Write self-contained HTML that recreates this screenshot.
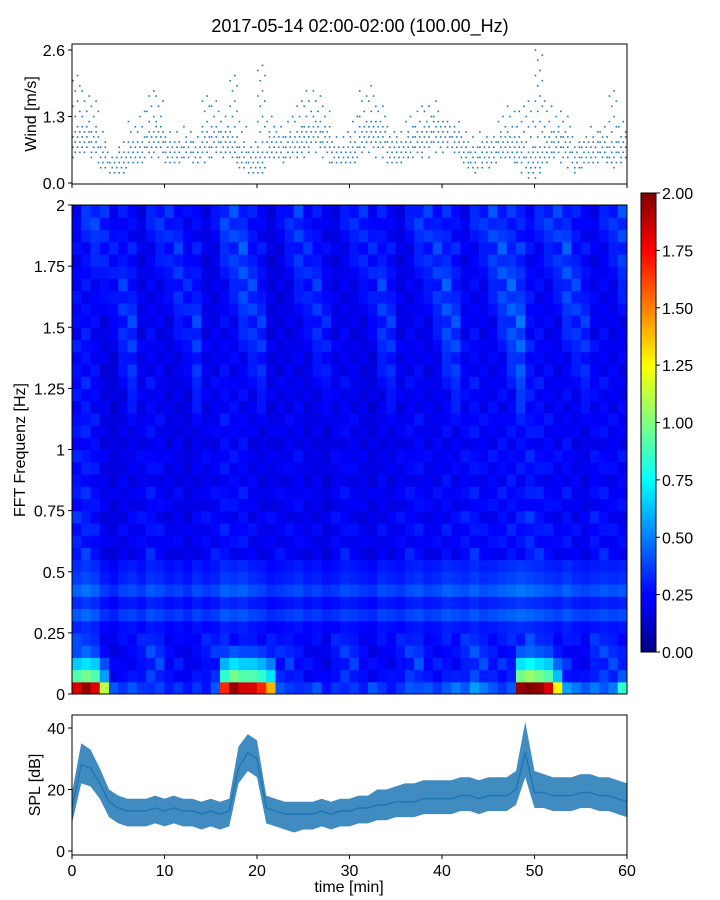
<!DOCTYPE html>
<html><head><meta charset="utf-8">
<style>
body{margin:0;background:#fff;}
svg{display:block;font-family:"Liberation Sans","DejaVu Sans",sans-serif;}
</style></head>
<body>
<svg id="chart" width="720" height="900" viewBox="0 0 720 900">
<defs>
<linearGradient id="jet" x1="0" y1="1" x2="0" y2="0">
<stop offset="0" stop-color="#00007f"/><stop offset="0.11" stop-color="#0000ff"/>
<stop offset="0.125" stop-color="#0000ff"/><stop offset="0.375" stop-color="#00ffff"/>
<stop offset="0.625" stop-color="#ffff00"/><stop offset="0.875" stop-color="#ff0000"/>
<stop offset="1" stop-color="#7f0000"/></linearGradient>
<clipPath id="specClip"><rect x="72" y="205" width="555" height="489"/></clipPath>
<clipPath id="splClip"><rect x="72" y="715" width="555" height="140"/></clipPath>
</defs>
<text x="360" y="32" text-anchor="middle" font-size="18">2017-05-14 02:00-02:00 (100.00_Hz)</text>
<g id="wind"></g>
<g id="spec"></g>
<g id="cbar"></g>
<g id="spl"></g>
</svg>
<script>
// ---- data ----
const xTicks=[0,10,20,30,40,50,60];
const windTicks=[0.0,1.3,2.6];
const windLo=[0.5,0.5,0.4,0.3,0.2,0.2,0.4,0.4,0.5,0.5,0.4,0.4,0.5,0.4,0.4,0.5,0.4,0.4,0.3,0.2,0.2,0.4,0.4,0.5,0.5,0.5,0.5,0.4,0.4,0.4,0.4,0.5,0.5,0.5,0.4,0.4,0.4,0.5,0.5,0.6,0.6,0.5,0.3,0.2,0.3,0.3,0.4,0.4,0.2,0.1,0.1,0.3,0.4,0.3,0.2,0.3,0.3,0.4,0.3,0.4];
const windMid=[0.8,0.9,0.8,0.5,0.3,0.4,0.6,0.6,0.8,0.9,0.6,0.6,0.6,0.5,0.8,0.9,0.8,0.7,0.5,0.4,0.4,0.7,0.7,0.7,0.8,0.9,1.0,0.9,0.5,0.5,0.6,0.9,1.0,0.9,0.6,0.6,0.7,0.8,0.9,1.0,1.0,0.8,0.6,0.5,0.6,0.6,0.7,0.7,0.6,0.4,0.5,0.7,0.8,0.7,0.5,0.6,0.6,0.7,0.6,0.7];
const windHi=[2.2,1.8,1.7,1.0,0.6,0.8,1.2,1.4,1.8,1.7,1.1,1.0,1.1,1.0,1.8,1.7,1.3,2.2,1.2,0.8,2.3,1.3,1.2,1.3,1.6,1.8,1.8,1.5,1.0,1.0,1.3,1.8,1.9,1.5,1.1,1.1,1.3,1.5,1.6,1.6,1.3,1.2,1.1,0.9,1.0,1.0,1.3,1.5,1.5,1.6,2.6,1.6,1.4,1.3,0.9,1.0,1.1,1.2,1.8,1.2];
const freqTicks=[0,0.25,0.5,0.75,1,1.25,1.5,1.75,2];
const freqLabels=["0","0.25","0.5","0.75","1","1.25","1.5","1.75","2"];
const rowBase=[0.26,0.30,0.30,0.32,0.36,0.28,0.38,0.30,0.40,0.33,0.30,0.26,0.29,0.24,0.32,0.22,0.27,0.25,0.23,0.29,0.21,0.26,0.24,0.20,0.27,0.23,0.25,0.21,0.28,0.19,0.24,0.22,0.26,0.20,0.23,0.18,0.25,0.21,0.23,0.19];
const colScale=[1.1,1.2,1.1,0.9,0.8,0.95,1.0,0.9,1.05,1.0,0.9,0.95,0.85,1.0,0.9,0.95,1.1,1.05,1.1,1.0,0.95,0.85,0.9,0.95,1.0,0.9,0.95,0.85,0.9,1.0,0.95,0.9,0.85,1.0,0.95,0.9,1.0,1.05,0.95,1.0,1.1,1.05,1.0,1.1,1.0,1.05,1.1,1.15,1.2,1.15,1.1,1.05,1.0,1.1,1.0,0.95,1.0,1.05,1.0,1.05];
const lowBoost=[1.3,1.4,1.3,0.8,0.3,0.25,0.3,0.25,0.2,0.25,0.2,0.25,0.2,0.25,0.2,0.3,1.2,1.4,1.3,1.3,1.2,1.0,0.3,0.25,0.2,0.25,0.3,0.2,0.25,0.2,0.25,0.2,0.3,0.25,0.2,0.25,0.3,0.25,0.3,0.25,0.3,0.35,0.3,0.4,0.35,0.3,0.25,0.3,1.4,1.5,1.4,1.3,0.9,0.4,0.35,0.3,0.35,0.3,0.35,0.6];
const lowRowWeight=[1.4,0.7,0.5,0.3];
const cbarTicks=[0,0.25,0.5,0.75,1,1.25,1.5,1.75,2];
const splTicks=[0,20,40];
const splMid=[14,28,27,22,16,14,13,13,13,14,13,14,13,13,12,13,12,13,27,32,30,14,13,12,12,12,12,13,12,13,13,14,14,15,15,16,16,16,17,17,17,17,18,18,17,18,18,18,20,32,19,19,18,18,18,19,19,18,18,17,16];
const splLo=[9,22,21,17,11,9,8,8,8,9,8,9,8,8,7,8,7,8,22,26,24,9,8,7,6,7,7,8,7,8,8,9,9,10,10,11,11,11,12,12,12,12,13,13,12,13,13,13,15,24,14,14,13,13,13,14,14,13,13,12,11];
const splHi=[19,35,33,27,20,18,17,17,17,18,17,18,17,17,16,17,16,17,34,38,36,18,17,16,16,16,16,17,16,17,17,18,18,20,20,21,22,22,23,23,23,23,24,24,23,24,24,24,26,42,26,25,24,24,24,25,25,24,24,23,22];

// ---- helpers ----
const NS="http://www.w3.org/2000/svg";
function mk(tag,attrs,parent){const e=document.createElementNS(NS,tag);for(const k in attrs)e.setAttribute(k,attrs[k]);parent.appendChild(e);return e;}
const X0=72,X1=627;
const xs=t=>X0+(X1-X0)*t/60;
function jet(v){v=Math.max(0,Math.min(1,v/2));
 const r=Math.max(0,Math.min(1,1.5-Math.abs(4*v-3))),g=Math.max(0,Math.min(1,1.5-Math.abs(4*v-2))),b=Math.max(0,Math.min(1,1.5-Math.abs(4*v-1)));
 return `rgb(${Math.round(r*255)},${Math.round(g*255)},${Math.round(b*255)})`;}
function frame(g,y0,y1,name){const f=mk('rect',{x:X0,y:y0,width:X1-X0,height:y1-y0,fill:'none',stroke:'#000','stroke-width':1},g);}
function xTickMarks(g,y1,labels){xTicks.forEach(t=>{const l=mk('line',{x1:xs(t),x2:xs(t),y1:y1,y2:y1+4,stroke:'#000'},g);
 if(labels){const tx=mk('text',{x:xs(t),y:y1+21,'text-anchor':'middle','font-size':16},g);tx.textContent=t;}});}

// ---- wind panel ----
const gw=document.getElementById('wind');
const wy=v=>183-v*(133/2.6);
for(let m=0;m<60;m++){
 const lo=windLo[m],hi=windHi[m],mid=windMid[m];
 for(let k=0;k<4;k++){
  const t=m+k/4+0.1;
  const steps=Math.round((hi-lo)*10);
  for(let s=0;s<=steps;s+=1){
   const v=lo+s*0.1;
   const near=Math.abs(v-mid)<=0.25;
   if(near){ if((s+k)%2!==0) continue; }
   else if((s*3+k+m)%5!==0) continue;
   const d=mk('rect',{x:xs(t)-0.8,y:wy(v)-0.8,width:1.6,height:1.6,fill:'#1f77b4'},gw);
   
  }
 }
}
frame(gw,44,184,'wind-axes-frame');
xTickMarks(gw,184,false);
windTicks.forEach(v=>{mk('line',{x1:X0-4,x2:X0,y1:wy(v),y2:wy(v),stroke:'#000'},gw);
 const t=mk('text',{x:X0-7,y:wy(v)+6,'text-anchor':'end','font-size':16},gw);t.textContent=v.toFixed(1);});
{const t=mk('text',{x:36,y:114,'text-anchor':'middle','font-size':16,transform:'rotate(-90 36 114)'},gw);t.textContent='Wind [m/s]';}

// ---- spectrogram ----
const gs=document.getElementById('spec');
const fy=f=>694-f*(489/2);
const cells=mk('g',{'clip-path':'url(#specClip)'},gs);
const cw=(X1-X0)/60;
for(let c=0;c<60;c++){for(let r=0;r<40;r++){
 let v=rowBase[(r+(c%7)*3)%40]*colScale[c];
 if(r>=5&&r<=10) v=rowBase[r]*colScale[c];
 if(r<lowRowWeight.length) v=Math.max(v,lowBoost[c]*lowRowWeight[r]);
 const f0=r*0.05;
 const cell=mk('rect',{x:xs(c),y:fy(f0+0.05),width:cw+0.6,height:489/40+0.6,fill:jet(v)},cells);
 
}}
frame(gs,205,694,'spectrogram-frame');
freqTicks.forEach((f,i)=>{mk('line',{x1:X0-4,x2:X0,y1:fy(f),y2:fy(f),stroke:'#000'},gs);
 const t=mk('text',{x:X0-7,y:fy(f)+6,'text-anchor':'end','font-size':16},gs);t.textContent=freqLabels[i];});
{const t=mk('text',{x:25,y:450,'text-anchor':'middle','font-size':16,transform:'rotate(-90 25 450)'},gs);t.textContent='FFT Frequenz [Hz]';}

// ---- colorbar ----
const gc=document.getElementById('cbar');
const cy=v=>652-v*(459/2);
{const r=mk('rect',{x:641,y:193,width:15,height:459,fill:'url(#jet)',stroke:'#000','stroke-width':1},gc);}
cbarTicks.forEach(v=>{mk('line',{x1:656,x2:660,y1:cy(v),y2:cy(v),stroke:'#000'},gc);
 const t=mk('text',{x:662,y:cy(v)+6,'font-size':16},gc);t.textContent=v.toFixed(2);});

// ---- SPL panel ----
const gp=document.getElementById('spl');
const sy=v=>851-v*(61.5/20);
const inner=mk('g',{'clip-path':'url(#splClip)'},gp);
let band='';splHi.forEach((v,i)=>{band+=(i?'L':'M')+xs(i)+','+sy(v);});
for(let i=splLo.length-1;i>=0;i--)band+='L'+xs(i)+','+sy(splLo[i]);
{const b=mk('path',{d:band+'Z',fill:'#1f77b4','fill-opacity':0.85},inner);}
let ln='';splMid.forEach((v,i)=>{ln+=(i?'L':'M')+xs(i)+','+sy(v);});
{const l=mk('path',{d:ln,fill:'none',stroke:'#1f77b4','stroke-width':1.5},inner);}
frame(gp,715,855,'spl-axes-frame');
xTickMarks(gp,855,true);
splTicks.forEach(v=>{mk('line',{x1:X0-4,x2:X0,y1:sy(v),y2:sy(v),stroke:'#000'},gp);
 const t=mk('text',{x:X0-7,y:sy(v)+6,'text-anchor':'end','font-size':16},gp);t.textContent=v;});
{const t=mk('text',{x:40,y:785,'text-anchor':'middle','font-size':16,transform:'rotate(-90 40 785)'},gp);t.textContent='SPL [dB]';}
{const t=mk('text',{x:349,y:892,'text-anchor':'middle','font-size':16},gp);t.textContent='time [min]';}
</script>
</body></html>
